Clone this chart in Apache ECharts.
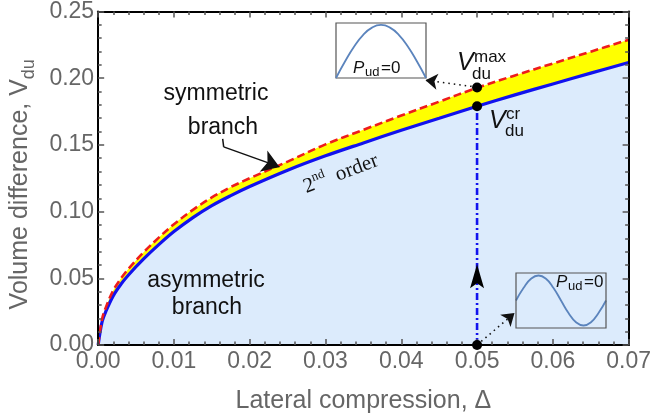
<!DOCTYPE html>
<html><head><meta charset="utf-8">
<script src="https://cdn.jsdelivr.net/npm/echarts@6/dist/echarts.min.js"></script>
<style>html,body{margin:0;padding:0;background:#fff}#c{width:654px;height:420px}</style>
</head><body><div id="c"></div>
<script>
// ---- data ----
const deltaValues = [0,0.0005,0.001,0.002,0.003,0.004,0.006,0.008,0.01,0.0125,0.015,0.0175,0.02,0.025,0.03,0.035,0.04,0.045,0.05,0.055,0.06,0.065,0.07];
const vCritical  = [0,0.017,0.025,0.037,0.0455,0.0525,0.0645,0.0752,0.085,0.0955,0.1045,0.112,0.1188,0.131,0.1418,0.1515,0.161,0.170,0.179,0.1875,0.1957,0.2038,0.2118];
const vMax       = [0,0.019,0.028,0.041,0.0498,0.0571,0.0695,0.0805,0.0905,0.1013,0.1106,0.1184,0.1250,0.1375,0.1504,0.1613,0.172,0.1824,0.1928,0.2021,0.211,0.2199,0.2288];
const markerDelta = [0.05];
const markerVcr = [0.179];
const markerVmax = [0.193];
const upArrowV = [0.0515];
const xTickLabels = ['0.00','0.01','0.02','0.03','0.04','0.05','0.06','0.07'];
const yTickLabels = ['0.00','0.05','0.10','0.15','0.20','0.25'];
const branchArrowPath = [[0.01643,0.1545],[0.01656,0.1485],[0.02393,0.1335]];
const topDottedArrow = [[0.05,0.1933],[0.0432,0.1985]];
const bottomDottedArrow = [[0.05,0.0],[0.05494,0.0239]];
// inset schematic shapes
const archX = [0,0.1,0.2,0.3,0.4,0.5,0.6,0.7,0.8,0.9,1];
const archY = [0,0.31,0.59,0.81,0.95,1,0.95,0.81,0.59,0.31,0];
const waveX = [0,0.0833,0.1667,0.25,0.3333,0.4167,0.5,0.5833,0.6667,0.75,0.8333,0.9167,1];
const waveY = [0,0.5,0.87,1,0.87,0.5,0,-0.5,-0.87,-1,-0.87,-0.5,0];

const pairs = (xs, ys) => xs.map((x, i) => [x, ys[i]]);
const SANS = '"Liberation Sans", Arial, sans-serif';
const SERIF = '"Liberation Serif", "Times New Roman", serif';
const GRAY = '#666';
const BLUE = '#1212ee';
const RED = '#ee1c1c';

const chart = echarts.init(document.getElementById('c'), null, {renderer:'canvas'});

function mainX(pos, showLabel) {
  return {
    type:'value', gridIndex:0, position:pos, min:0, max:0.07, interval:0.01, z:5,
    axisLine:{show:true, onZero:false, lineStyle:{color:'#000', width:2}},
    axisTick:{show:true, inside:true, length:6, lineStyle:{color:'#555', width:1.5}},
    minorTick:{show:true, splitNumber:5, length:3.5, lineStyle:{color:'#555', width:1.5}},
    splitLine:{show:false}, minorSplitLine:{show:false},
    axisLabel:{show:showLabel, color:GRAY, fontSize:23, fontFamily:SANS, margin:5,
      formatter: v => xTickLabels[Math.round(v/0.01)]}
  };
}
function mainY(pos, showLabel) {
  return {
    type:'value', gridIndex:0, position:pos, min:0, max:0.25, interval:0.05, z:5,
    axisLine:{show:true, onZero:false, lineStyle:{color:'#000', width:2}},
    axisTick:{show:true, inside:true, length:6, lineStyle:{color:'#555', width:1.5}},
    minorTick:{show:true, splitNumber:5, length:3.5, lineStyle:{color:'#555', width:1.5}},
    splitLine:{show:false}, minorSplitLine:{show:false},
    axisLabel:{show:showLabel, color:GRAY, fontSize:23, fontFamily:SANS, margin:4,
      formatter: v => yTickLabels[Math.round(v/0.05)]}
  };
}
function hiddenAxis(grid, min, max) {
  return {type:'value', gridIndex:grid, min:min, max:max, show:false};
}

const xb = mainX('bottom', true);
xb.name = 'Lateral compression, Δ';
xb.nameLocation = 'middle';
xb.nameGap = 44;
xb.nameTextStyle = {color:GRAY, fontSize:25, fontFamily:SANS};
const yl = mainY('left', true);
yl.name = '{a|Volume difference, V}{s|du}';
yl.nameLocation = 'middle';
yl.nameGap = 48;
yl.nameTextStyle = {color:GRAY, fontFamily:SANS, padding:[0,12,0,0],
  rich:{a:{fontSize:25, color:GRAY, fontFamily:SANS, lineHeight:36},
        s:{fontSize:18, color:GRAY, fontFamily:SANS, lineHeight:18, verticalAlign:'bottom'}}};

function txt(x, y, text, font, align, extra) {
  return Object.assign({type:'text', x:x, y:y, z:100,
    style:{text:text, font:font, fill:'#111', align:align||'left', verticalAlign:'middle'}}, extra||{});
}

const curveSmooth = 0.35;
const option = {
  animation:false,
  backgroundColor:'#fff',
  grid:[
    {left:92, top:10, width:541, height:335, show:false},
    {left:336, top:23, width:90, height:55, show:true, backgroundColor:'#fff', borderColor:'#555', borderWidth:1.2},
    {left:516, top:273, width:90, height:55, show:false}
  ],
  xAxis:[xb, mainX('top', false), hiddenAxis(1,0,1), hiddenAxis(2,0,1)],
  yAxis:[yl, mainY('right', false), hiddenAxis(1,0,1.037), hiddenAxis(2,-1.1,1.1)],
  series:[
    {type:'line', xAxisIndex:0, yAxisIndex:0, data:pairs(deltaValues, vMax), showSymbol:false,
      smooth:curveSmooth, lineStyle:{width:0}, areaStyle:{color:'#ffff00', opacity:1}, z:1, silent:true},
    {type:'line', xAxisIndex:0, yAxisIndex:0, data:pairs(deltaValues, vCritical), showSymbol:false,
      smooth:curveSmooth, lineStyle:{color:BLUE, width:3.2}, areaStyle:{color:'#dcebfc', opacity:1}, z:2, silent:true},
    {type:'line', xAxisIndex:0, yAxisIndex:0, data:pairs(deltaValues, vMax), showSymbol:false,
      smooth:curveSmooth, lineStyle:{color:RED, width:2.6, type:[8,4]}, z:3, silent:true},
    {type:'line', xAxisIndex:0, yAxisIndex:0, data:[[markerDelta[0],0],[markerDelta[0],markerVcr[0]]], showSymbol:false,
      lineStyle:{color:BLUE, width:2.6, type:[7,3,2,3]}, z:4, silent:true},
    {type:'scatter', xAxisIndex:0, yAxisIndex:0, data:[[markerDelta[0], upArrowV[0]]],
      symbol:'path://M7,0 L14,24 L7,19 L0,24 Z', symbolSize:[14,24],
      itemStyle:{color:'#000', opacity:1}, z:6, silent:true},
    {type:'scatter', xAxisIndex:0, yAxisIndex:0, data:[[markerDelta[0],markerVmax[0]],[markerDelta[0],markerVcr[0]],[markerDelta[0],0]],
      symbolSize:10, itemStyle:{color:'#000', opacity:1}, z:8, silent:true},
    {type:'lines', coordinateSystem:'cartesian2d', xAxisIndex:0, yAxisIndex:0, polyline:false,
      symbol:['none','none'], lineStyle:{color:'#111', width:1.5, opacity:1, curveness:0},
      data:[{coords:[branchArrowPath[0], branchArrowPath[1]]}], z:7, silent:true},
    {type:'lines', coordinateSystem:'cartesian2d', xAxisIndex:0, yAxisIndex:0, polyline:false,
      symbol:['none','arrow'], symbolSize:17, lineStyle:{color:'#111', width:1.5, opacity:1, curveness:0},
      data:[{coords:[branchArrowPath[1], branchArrowPath[2]]}], z:7, silent:true},
    {type:'lines', coordinateSystem:'cartesian2d', xAxisIndex:0, yAxisIndex:0, polyline:false,
      symbol:['none','arrow'], symbolSize:12, lineStyle:{color:'#111', width:1.6, opacity:1, curveness:0, type:[1.5,4]},
      data:[{coords:topDottedArrow},{coords:bottomDottedArrow}], z:7, silent:true},
    {type:'line', xAxisIndex:2, yAxisIndex:2, data:pairs(archX, archY), showSymbol:false, smooth:true,
      lineStyle:{color:'#5b84bd', width:1.8}, z:20, silent:true},
    {type:'line', xAxisIndex:3, yAxisIndex:3, data:pairs(waveX, waveY), showSymbol:false, smooth:true,
      lineStyle:{color:'#5b84bd', width:1.8}, z:20, silent:true}
  ],
  graphic:[
    {type:'rect', z:90, shape:{x:516, y:273, width:90, height:55}, style:{fill:'none', stroke:'#555', lineWidth:1.2}},
    txt(216, 94, 'symmetric', '23px ' + SANS, 'center'),
    txt(223, 128, 'branch', '23px ' + SANS, 'center'),
    txt(206, 281, 'asymmetric', '23px ' + SANS, 'center'),
    txt(207, 308, 'branch', '23px ' + SANS, 'center'),
    {type:'text', x:341, y:174, rotation:0.36, z:100,
      style:{text:'{n|2}{s|nd}{n|  order}', fill:'#111', align:'center', verticalAlign:'middle',
        rich:{n:{fontSize:21, fontFamily:SERIF, fill:'#111', lineHeight:26},
              s:{fontSize:13, fontFamily:SERIF, fill:'#111', lineHeight:13, verticalAlign:'top'}}}},
    // V_du^max
    txt(457, 63.5, 'V', 'italic 25px ' + SANS, 'left'),
    txt(474, 57.5, 'max', '17px ' + SANS, 'left'),
    txt(472, 74, 'du', '17px ' + SANS, 'left'),
    // V_du^cr
    txt(489, 121.5, 'V', 'italic 25px ' + SANS, 'left'),
    txt(506, 114, 'cr', '17px ' + SANS, 'left'),
    txt(505, 131, 'du', '17px ' + SANS, 'left'),
    // P_ud = 0 (top inset)
    txt(353, 68, 'P', 'italic 17px ' + SANS, 'left'),
    txt(365, 72, 'ud', '13px ' + SANS, 'left'),
    txt(381, 68, '=0', '17px ' + SANS, 'left'),
    // P_ud = 0 (bottom inset)
    txt(556, 282.5, 'P', 'italic 17px ' + SANS, 'left'),
    txt(568, 286.5, 'ud', '13px ' + SANS, 'left'),
    txt(584, 282.5, '=0', '17px ' + SANS, 'left')
  ]
};
chart.setOption(option);
</script>
</body></html>
